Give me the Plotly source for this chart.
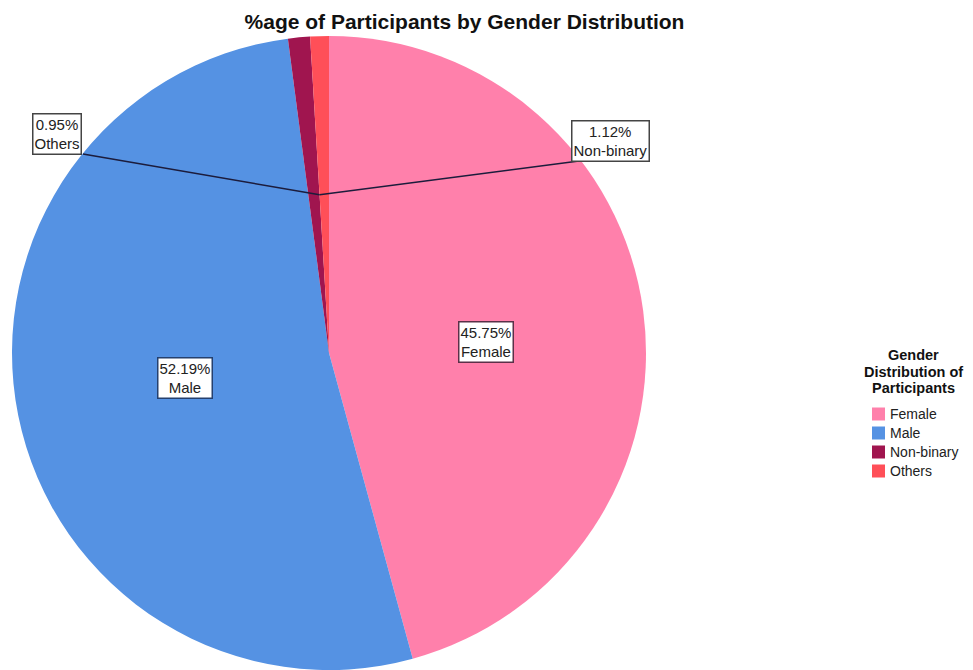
import math
import plotly.graph_objects as go

# ---- data ----
labels = ["Female", "Male", "Non-binary", "Others"]
values = [45.75, 52.19, 1.12, 0.95]
colors = ["#FF80AB", "#5592E3", "#A0154F", "#FF4F58"]
chart_title = "%age of Participants by Gender Distribution"
legend_title_lines = ["Gender", "Distribution of", "Participants"]

# ---- layout geometry (page pixels; page has an 8px body offset) ----
OFF = 8
W, H = 973 - OFF, 670 - OFF
cx, cy, R = 329, 353, 317
FONT = "Liberation Sans, Arial, sans-serif"


def paper(x, y):
    return (x - OFF) / W, 1 - (y - OFF) / H


fig = go.Figure(
    go.Pie(
        labels=labels,
        values=values,
        marker=dict(colors=colors, line=dict(width=0)),
        sort=False,
        direction="clockwise",
        rotation=0,
        textinfo="none",
        hoverinfo="label+percent",
        showlegend=False,
        domain=dict(x=[paper(cx - R, 0)[0], paper(cx + R, 0)[0]],
                    y=[max(0, paper(0, cy + R)[1]), paper(0, cy - R)[1]]),
    )
)

# label boxes (centres in px) and their border colours
label_pos = {
    "Female": (485.5, 341.5),
    "Male": (184.5, 377.5),
    "Non-binary": (610, 141),
    "Others": (56.5, 133.5),
}
border_cols = {"Female": "#5a3048", "Male": "#25406e", "Non-binary": "#444444", "Others": "#444444"}

total = sum(values)
for lab, val in zip(labels, values):
    x, y = paper(*label_pos[lab])
    fig.add_annotation(
        x=x, y=y, xref="paper", yref="paper", showarrow=False,
        xanchor="center", yanchor="middle",
        text=f"{val:.2f}%<br>{lab}",
        font=dict(family=FONT, size=15, color="#222222"),
        bgcolor="white", bordercolor=border_cols[lab], borderwidth=1.5, borderpad=1,
    )

# leader lines to boundary between Non-binary and Others at half radius
cum = sum(values[:3]) / total * 2 * math.pi
tx = cx + 0.5 * R * math.sin(cum)
ty = cy - 0.5 * R * math.cos(cum)
for sx, sy in [(83, 154), (579, 161)]:
    x0, y0 = paper(sx, sy)
    x1, y1 = paper(tx, ty)
    fig.add_shape(type="line", xref="paper", yref="paper", x0=x0, y0=y0, x1=x1, y1=y1,
                  line=dict(color="#1c1c3c", width=1.5))

# legend (drawn manually to match spacing)
for i, line in enumerate(legend_title_lines):
    x, y = paper(913, 355 + i * 16.7)
    fig.add_annotation(x=x, y=y, xref="paper", yref="paper", showarrow=False,
                       text=f"<b>{line}</b>", xanchor="center", yanchor="middle",
                       font=dict(family=FONT, size=14.5, color="#111111"))
for i, (lab, col) in enumerate(zip(labels, colors)):
    yc = 414 + i * 19
    x0, y0 = paper(872, yc - 6.5)
    x1, y1 = paper(885, yc + 6.5)
    fig.add_shape(type="rect", xref="paper", yref="paper", x0=x0, y0=y0, x1=x1, y1=y1,
                  fillcolor=col, line=dict(width=0))
    tx_, ty_ = paper(888, yc)
    fig.add_annotation(x=tx_, y=ty_, xref="paper", yref="paper", showarrow=False,
                       text=lab, xanchor="left", yanchor="middle",
                       font=dict(family=FONT, size=14, color="#222222"))

tx0, ty0 = paper(464.5, 22)
fig.update_layout(
    width=W, height=H,
    margin=dict(l=0, r=0, t=0, b=0),
    paper_bgcolor="white", plot_bgcolor="white",
    showlegend=False,
    font=dict(family=FONT, color="#222222"),
    title=dict(text=f"<b>{chart_title}</b>", x=tx0, xanchor="center",
               y=ty0, yanchor="middle", yref="container",
               font=dict(family=FONT, size=21, color="#111111")),
)

fig.write_html("out.html")
